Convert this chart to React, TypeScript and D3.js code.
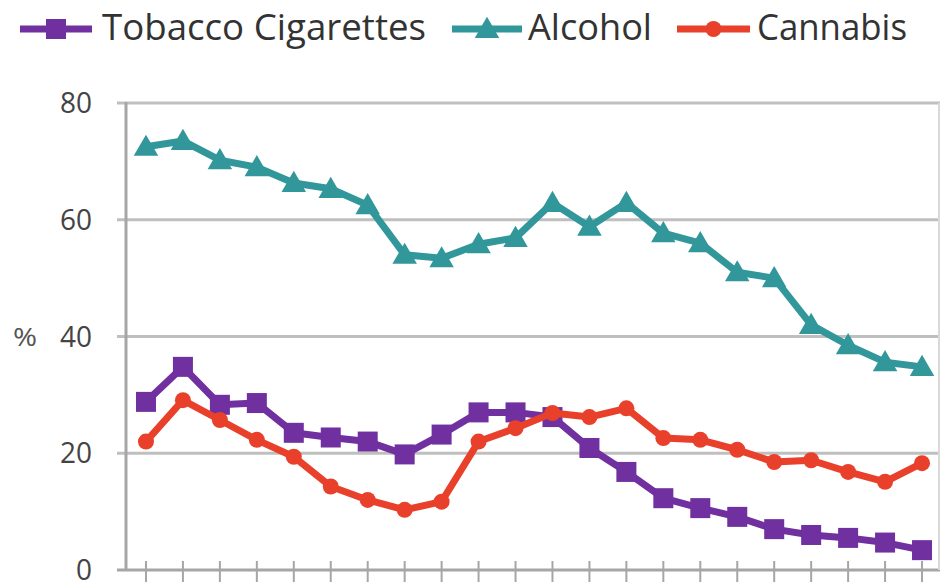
import React from 'react';
import * as d3 from 'd3';

// survey waves (x axis carries no labels in the original)
const waves = ['1', '2', '3', '4', '5', '6', '7', '8', '9', '10', '11', '12', '13', '14', '15', '16', '17', '18', '19', '20', '21', '22'];

const tobacco = [28.8, 34.8, 28.3, 28.6, 23.5, 22.7, 22, 19.8, 23.2, 27, 27, 26.2, 20.9, 16.8, 12.3, 10.6, 9.1, 7, 6, 5.5, 4.7, 3.4];
const alcohol = [72.5, 73.5, 70.2, 69, 66.3, 65.3, 62.5, 54, 53.4, 55.8, 56.9, 62.9, 58.8, 62.9, 57.7, 56, 51, 50, 42, 38.5, 35.6, 34.8];
const cannabis = [22, 29.1, 25.7, 22.3, 19.4, 14.3, 12, 10.3, 11.7, 22, 24.3, 26.9, 26.2, 27.7, 22.6, 22.3, 20.6, 18.5, 18.8, 16.8, 15.1, 18.3];

const yTicks = [0, 20, 40, 60, 80];

const seriesNames = ['Tobacco Cigarettes', 'Alcohol', 'Cannabis'];
const seriesColors = ['#7030a0', '#31979a', '#e8402a'];

const width = 941;
const height = 587;

const Marker = ({ kind, x, y, color }: { kind: number; x: number; y: number; color: string }) => {
  if (kind === 0) return <rect x={x - 10} y={y - 10} width={20} height={20} fill={color} />;
  if (kind === 1) {
    const tri = d3.symbol(d3.symbolTriangle, 260)();
    return <path d={tri || ''} transform={`translate(${x},${y + 2})`} fill={color} />;
  }
  return <circle cx={x} cy={y} r={8} fill={color} />;
};

export default function App() {
  const x = d3.scalePoint<string>().domain(waves).range([127.5, 940.5]).padding(0.5);
  const y = d3.scaleLinear().domain([0, 80]).range([570, 103]);

  const data = [tobacco, alcohol, cannabis];
  const line = d3
    .line<number>()
    .x((_, i) => x(waves[i]) as number)
    .y((d) => y(d));

  // legend placement
  const legend = [
    { x0: 20, x1: 92, tx: 102, len: 324 },
    { x0: 452, x1: 522, tx: 528, len: 124 },
    { x0: 677, x1: 750, tx: 757, len: 150 }
  ];

  const font = "'Open Sans', Lato, sans-serif";

  return (
    <svg width={width} height={height} style={{ position: 'absolute', left: 0, top: 0, background: '#fff' }}>
      {/* gridlines */}
      {yTicks.map((t) => (
        <line
          key={t}
          x1={117}
          x2={940}
          y1={y(t)}
          y2={y(t)}
          stroke={t === 0 ? '#a6a6a6' : '#bfbfbf'}
          strokeWidth={3}
        />
      ))}
      <line x1={939} x2={939} y1={103} y2={570} stroke="#d9d9d9" strokeWidth={2} />
      {/* y axis */}
      <line x1={126} x2={126} y1={102} y2={571} stroke="#a6a6a6" strokeWidth={3} />
      {yTicks.map((t) => (
        <text
          key={t}
          x={92}
          y={y(t)}
          dy="0.35em"
          textAnchor="end"
          fontFamily={font}
          fontSize={29}
          fill="#444"
          textLength={t === 0 ? 16 : 32}
          lengthAdjust="spacingAndGlyphs"
        >
          {t}
        </text>
      ))}
      <text x={13} y={337} dy="0.35em" fontFamily={font} fontSize={26} fill="#555" textLength={24} lengthAdjust="spacingAndGlyphs">
        %
      </text>
      {/* x ticks */}
      {waves.map((w) => (
        <line key={w} x1={x(w)} x2={x(w)} y1={561} y2={582} stroke="#a6a6a6" strokeWidth={2} />
      ))}
      {/* series */}
      {data.map((s, k) => (
        <g key={seriesNames[k]}>
          <path d={line(s) || ''} fill="none" stroke={seriesColors[k]} strokeWidth={7} strokeLinejoin="round" />
          {s.map((v, i) => (
            <Marker key={i} kind={k} x={x(waves[i]) as number} y={y(v)} color={seriesColors[k]} />
          ))}
        </g>
      ))}
      {/* legend */}
      {legend.map((l, k) => (
        <g key={seriesNames[k]}>
          <line x1={l.x0} x2={l.x1} y1={29} y2={29} stroke={seriesColors[k]} strokeWidth={7} />
          <Marker kind={k} x={(l.x0 + l.x1) / 2} y={29} color={seriesColors[k]} />
          <text
            x={l.tx}
            y={40}
            fontFamily={font}
            fontSize={37}
            fill="#333"
            textLength={l.len}
            lengthAdjust="spacingAndGlyphs"
          >
            {seriesNames[k]}
          </text>
        </g>
      ))}
    </svg>
  );
}
